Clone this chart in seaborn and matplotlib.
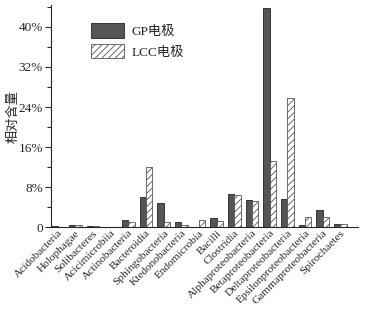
import numpy as np
import pandas as pd
import seaborn as sns
import matplotlib
matplotlib.use("Agg")
import matplotlib.pyplot as plt
from matplotlib.patches import Patch
from matplotlib.ticker import MultipleLocator, FuncFormatter

classes = ['Acidobacteria', 'Holophagae', 'Solibacteres', 'Acicimicrobiia', 'Actinobacteria',
           'Bacteroidia', 'Sphingobacteria', 'Ktedonobacteria', 'Endomicrobia', 'Bacilli',
           'Clostridia', 'Alphaproteobacteria', 'Betaproteobacteria', 'Deltaproteobacteria',
           'Epsilonproteobacteria', 'Gammaproteobacteria', 'Spirochaetes']
gp = [0.2, 0.5, 0.3, 0.1, 1.5, 6.0, 4.9, 1.1, 0.1, 1.8, 6.6, 5.4, 43.7, 5.7, 0.5, 3.5, 0.7]
lcc = [0.1, 0.5, 0.3, 0.1, 1.1, 12.1, 1.1, 0.5, 1.5, 1.3, 6.5, 5.3, 13.3, 25.9, 2.1, 2.1, 0.7]
groups = ['GP电极', 'LCC电极']

df = pd.DataFrame({
    'class': classes * 2,
    'value': gp + lcc,
    'group': [groups[0]] * len(classes) + [groups[1]] * len(classes),
})

sns.set_style('ticks')
fonts = ['Liberation Serif', 'Noto Sans CJK SC']
plt.rcParams['font.family'] = fonts
plt.rcParams['hatch.color'] = '#555555'
plt.rcParams['hatch.linewidth'] = 0.6

fig = plt.figure(figsize=(3.68, 3.09), dpi=100)
ax = fig.add_axes([0.139, 0.265, 0.834, 0.719])

sns.barplot(data=df, x='class', y='value', hue='group', order=classes, hue_order=groups,
            palette=['#555555', 'white'], width=0.72, edgecolor='#222222', linewidth=0.6,
            saturation=1, legend=False, ax=ax)

for bar in ax.containers[1]:
    bar.set_hatch('/////')
    bar.set_edgecolor('#555555')

ax.set_ylim(0, 44.4)
ax.set_xlim(-0.36, 17.0)
ax.yaxis.set_major_locator(MultipleLocator(8))
ax.yaxis.set_minor_locator(MultipleLocator(4))
ax.yaxis.set_major_formatter(FuncFormatter(lambda v, p: '0' if v == 0 else '%d%%' % v))
ax.tick_params(axis='y', which='major', length=4, width=0.8, labelsize=9.5, pad=2)
ax.tick_params(axis='y', which='minor', length=3, width=0.8)
ax.tick_params(axis='x', length=0, labelsize=8.2, pad=1)
plt.setp(ax.get_xticklabels(), rotation=45, ha='right', rotation_mode='anchor')
ax.set_xlabel('')
ax.set_ylabel('相对含量', fontsize=9.5)
ax.yaxis.set_label_coords(-0.102, 0.5)
sns.despine(ax=ax)
for s in ['left', 'bottom']:
    ax.spines[s].set_linewidth(0.8)

handles = [Patch(facecolor='#555555', edgecolor='#222222', linewidth=0.6, label=groups[0]),
           Patch(facecolor='white', edgecolor='#555555', hatch='/////', linewidth=0.6, label=groups[1])]
ax.legend(handles=handles, loc='upper left', bbox_to_anchor=(0.09, 0.97), frameon=False,
          fontsize=9.5, handlelength=2.5, handleheight=1.3, labelspacing=0.45, handletextpad=0.6)

fig.savefig('out.png', dpi=100)
